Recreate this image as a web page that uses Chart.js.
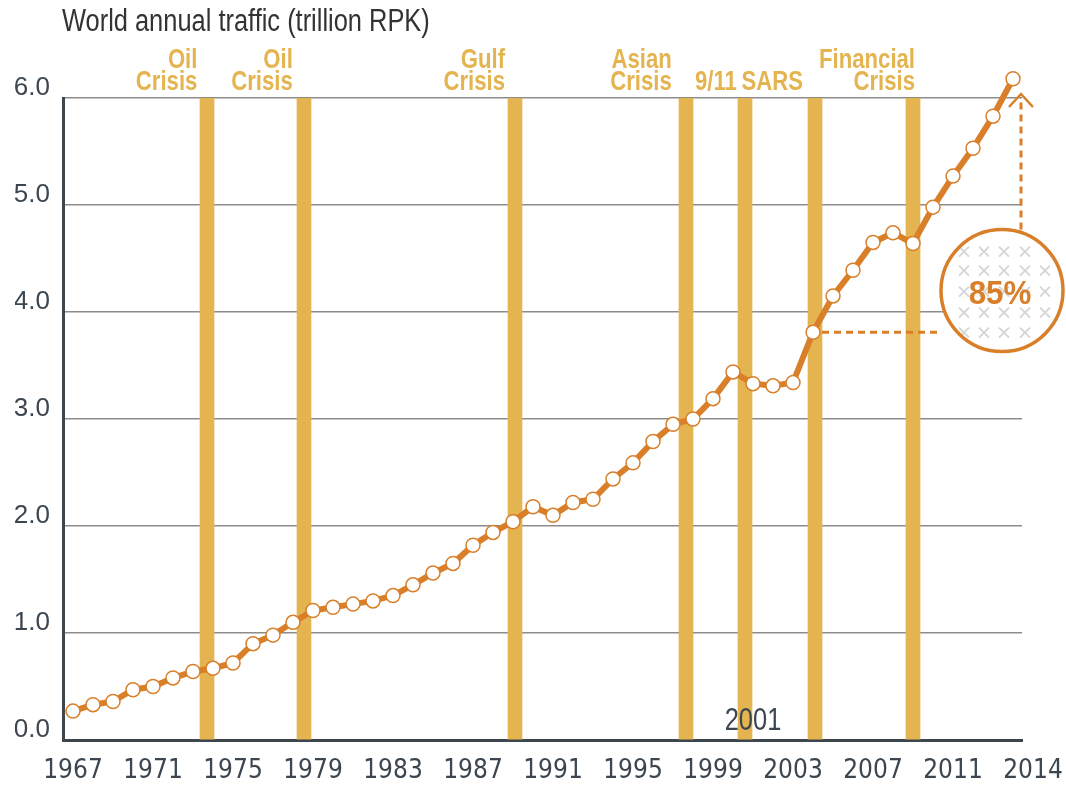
<!DOCTYPE html>
<html>
<head>
<meta charset="utf-8">
<script src="https://cdn.jsdelivr.net/npm/chart.js@4.4.1/dist/chart.umd.min.js"></script>
<style>
html, body { margin: 0; padding: 0; background: #fff; }
#wrap { position: relative; width: 1066px; height: 786px; }
#title {
    position: absolute; left: 62px; top: 5px;
    font: 31px/31px "Liberation Sans", Arial, sans-serif;
    color: #333;
    white-space: nowrap;
    transform: scaleX(0.82);
    transform-origin: 0 0;
}
canvas { display: block; }
</style>
</head>
<body>
<div id="wrap">
    <canvas id="chart" width="1066" height="786"></canvas>
    <div id="title">World annual traffic (trillion RPK)</div>
</div>
<script>
// dados
const years = [
    1967, 1968, 1969, 1970, 1971, 1972, 1973, 1974, 1975, 1976, 1977, 1978,
    1979, 1980, 1981, 1982, 1983, 1984, 1985, 1986, 1987, 1988, 1989, 1990,
    1991, 1992, 1993, 1994, 1995, 1996, 1997, 1998, 1999, 2000, 2001, 2002,
    2003, 2004, 2005, 2006, 2007, 2008, 2009, 2010, 2011, 2012, 2013, 2014
];
const traffic = [
    0.27, 0.33, 0.36, 0.47, 0.50, 0.58, 0.64, 0.67, 0.72, 0.90, 0.98, 1.10,
    1.21, 1.24, 1.27, 1.30, 1.35, 1.45, 1.56, 1.65, 1.82, 1.94, 2.04, 2.18,
    2.10, 2.22, 2.25, 2.44, 2.59, 2.79, 2.95, 3.00, 3.19, 3.44, 3.33, 3.31,
    3.34, 3.81, 4.15, 4.39, 4.65, 4.74, 4.64, 4.98, 5.27, 5.53, 5.83, 6.18
];
// rótulos do eixo x (espaçados por igual, o último diz 2014)
const xTickLabels = ['1967', '1971', '1975', '1979', '1983', '1987', '1991', '1995', '1999', '2003', '2007', '2011', '2014'];
const xTickPos = [1967, 1971, 1975, 1979, 1983, 1987, 1991, 1995, 1999, 2003, 2007, 2011, 2015];

// crises
const crisisYears = [1973.7, 1978.55, 1989.1, 1997.65, 2000.6, 2004.1, 2009.0];
const crisisNames = [['Oil', 'Crisis'], ['Oil', 'Crisis'], ['Gulf', 'Crisis'], ['Asian', 'Crisis'], ['9/11'], ['SARS'], ['Financial', 'Crisis']];
const crisisLabelEnd = [1973.22, 1977.99, 1988.6, 1996.94, 2000.19, 2003.5, 2009.1];

const noteYear = 2001;
const growthText = '85%';
const growthFrom = 2004;

const ORANGE = '#d97f2a';
const GOLD = '#e4b450';
const TEXT = '#3b4650';
const AXIS = '#3d464c';
const SANS = '"Liberation Sans", Arial, sans-serif';
const CONDENSED = '"DejaVu Sans Condensed", "Liberation Sans Narrow", sans-serif';

// texto estreito (Arial comprimido na horizontal)
function narrowText(ctx, text, x, y, sx) {
    ctx.save();
    ctx.translate(x, y);
    ctx.scale(sx, 1);
    ctx.fillText(text, 0, 0);
    ctx.restore();
}

const annotations = {
    id: 'annotations',
    afterDatasetsDraw(chart) {
        const { ctx, chartArea, scales: { x, y } } = chart;

        // pontos acima da área (o Chart.js não desenha)
        const full = { left: 0, top: 0, right: chart.width, bottom: chart.height };
        chart.getDatasetMeta(0).data.forEach(p => {
            if (p.y < chartArea.top) p.draw(ctx, full);
        });

        ctx.save();

        // rótulos das crises
        ctx.fillStyle = GOLD;
        ctx.font = 'bold 27px ' + SANS;
        ctx.textAlign = 'right';
        ctx.textBaseline = 'alphabetic';
        crisisNames.forEach((lines, i) => {
            const px = x.getPixelForValue(crisisLabelEnd[i]);
            const base = chartArea.top - 8;
            lines.slice().reverse().forEach((t, k) => narrowText(ctx, t, px, base - k * 22, 0.82));
        });

        // "2001"
        ctx.fillStyle = TEXT;
        ctx.font = '31px ' + SANS;
        ctx.textAlign = 'center';
        ctx.textBaseline = 'middle';
        narrowText(ctx, String(noteYear), x.getPixelForValue(noteYear), chartArea.bottom - 19, 0.82);

        // círculo 85%
        const cx = x.getPixelForValue(2013.45);
        const cy = y.getPixelForValue(4.2);
        const r = 61;
        const idx = years.indexOf(growthFrom);
        const hy = y.getPixelForValue(traffic[idx]);
        const vx = x.getPixelForValue(2014.4);

        ctx.strokeStyle = ORANGE;
        ctx.lineWidth = 3;
        ctx.setLineDash([7, 5]);
        ctx.beginPath();
        ctx.moveTo(x.getPixelForValue(growthFrom) + 9, hy);
        ctx.lineTo(cx - r, hy);
        ctx.moveTo(vx, cy - r);
        ctx.lineTo(vx, chartArea.top + 2);
        ctx.stroke();
        ctx.setLineDash([]);

        // seta
        ctx.lineWidth = 2.5;
        ctx.beginPath();
        ctx.moveTo(vx - 12, chartArea.top + 9);
        ctx.lineTo(vx, chartArea.top - 4);
        ctx.lineTo(vx + 12, chartArea.top + 9);
        ctx.stroke();

        ctx.beginPath();
        ctx.arc(cx, cy, r, 0, Math.PI * 2);
        ctx.fillStyle = '#fff';
        ctx.fill();

        // padrão de x dentro do círculo
        ctx.save();
        ctx.clip();
        ctx.strokeStyle = '#d6d6d6';
        ctx.lineWidth = 2;
        [-58, -38, -18, 2, 23, 43].forEach(dx => {
            [-39, -20, 1, 22, 42].forEach(dy => {
                if (Math.hypot(dx, dy) > 57) return;
                ctx.beginPath();
                ctx.moveTo(cx + dx - 5, cy + dy - 5);
                ctx.lineTo(cx + dx + 5, cy + dy + 5);
                ctx.moveTo(cx + dx + 5, cy + dy - 5);
                ctx.lineTo(cx + dx - 5, cy + dy + 5);
                ctx.stroke();
            });
        });
        ctx.restore();

        ctx.beginPath();
        ctx.arc(cx, cy, r, 0, Math.PI * 2);
        ctx.strokeStyle = ORANGE;
        ctx.lineWidth = 3.5;
        ctx.stroke();

        ctx.fillStyle = ORANGE;
        ctx.font = 'bold 33px ' + SANS;
        ctx.textAlign = 'center';
        ctx.textBaseline = 'middle';
        narrowText(ctx, growthText, cx - 2, cy + 4, 0.95);

        ctx.restore();
    }
};

new Chart(document.getElementById('chart'), {
    type: 'line',
    data: {
        datasets: [
            {
                type: 'line',
                data: years.map((yr, i) => ({ x: yr, y: traffic[i] })),
                borderColor: ORANGE,
                borderWidth: 6,
                pointRadius: 7,
                pointBackgroundColor: '#fff',
                pointBorderColor: ORANGE,
                pointBorderWidth: 1.5,
                tension: 0,
                clip: false,
                order: 0
            },
            {
                type: 'bar',
                data: crisisYears.map(yr => ({ x: yr, y: 6 })),
                backgroundColor: GOLD,
                barThickness: 14,
                order: 1
            }
        ]
    },
    options: {
        responsive: false,
        animation: false,
        layout: { padding: { left: 15, right: 44, top: 98, bottom: 0 } },
        plugins: { legend: { display: false }, tooltip: { enabled: false } },
        scales: {
            x: {
                type: 'linear',
                min: 1966.5,
                max: 2014.45,
                offset: false,
                grid: { display: false, drawTicks: false, offset: false },
                border: { display: true, color: AXIS, width: 3 },
                ticks: {
                    autoSkip: false,
                    maxRotation: 0,
                    padding: 18,
                    color: TEXT,
                    font: { family: CONDENSED, size: 26, lineHeight: 1 },
                    callback: (v, i) => xTickLabels[i]
                },
                afterBuildTicks: s => { s.ticks = xTickPos.map(v => ({ value: v })); },
                afterFit: s => { s.paddingLeft = 0; s.paddingRight = 0; s.height = 46; }
            },
            y: {
                min: 0,
                max: 6,
                grid: { color: '#8c8c8c', lineWidth: 1.5, drawTicks: false },
                border: { display: true, color: AXIS, width: 3 },
                ticks: {
                    stepSize: 1,
                    padding: 13,
                    labelOffset: -10,
                    color: TEXT,
                    font: { family: SANS, size: 26 },
                    callback: v => v.toFixed(1)
                },
                afterFit: s => { s.width = 48; }
            }
        }
    },
    plugins: [annotations]
});
</script>
</body>
</html>
